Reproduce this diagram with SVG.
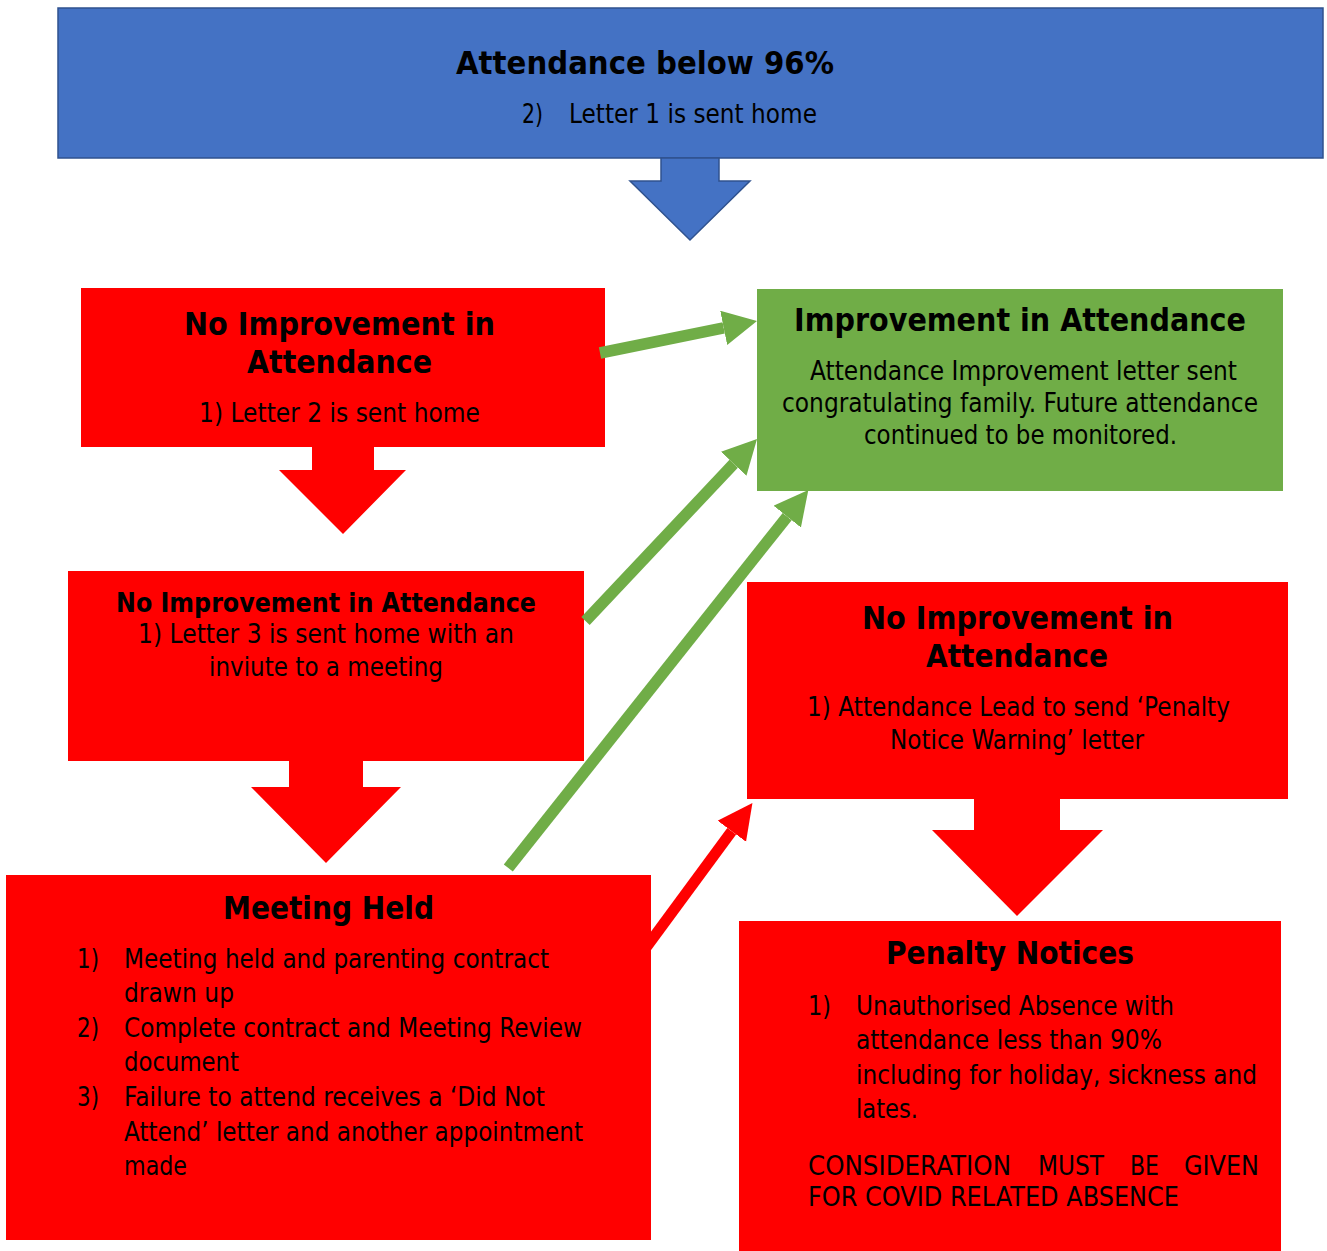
<svg xmlns="http://www.w3.org/2000/svg" width="1327" height="1251" viewBox="0 0 1327 1251">
<style>
text{font-family:"DejaVu Sans","Liberation Sans",sans-serif;fill:#000;}
.t{font-size:31.5px;font-weight:bold;}
.t2{font-size:26px;font-weight:bold;}
.b{font-size:26px;}
.red{fill:#FF0000;}
.green{fill:#70AD47;}
.blue{fill:#4472C4;stroke:#2F528F;stroke-width:1.5;}
.gl{stroke:#70AD47;stroke-width:11.5;fill:none;marker-end:url(#gh);}
.rl{stroke:#FF0000;stroke-width:11;fill:none;marker-end:url(#rh);}
</style>
<defs>
<marker id="gh" markerUnits="userSpaceOnUse" markerWidth="36" markerHeight="36" refX="0" refY="17.5" orient="auto" viewBox="0 0 36 36"><path d="M0,0 L34,17.5 L0,35 Z" fill="#70AD47"/></marker>
<marker id="rh" markerUnits="userSpaceOnUse" markerWidth="37" markerHeight="37" refX="0" refY="17.75" orient="auto" viewBox="0 0 37 37"><path d="M0,0 L35,17.75 L0,35.5 Z" fill="#FF0000"/></marker>
</defs>
<rect width="1327" height="1251" fill="#fff"/>

<g id="node-start">
<rect class="blue" x="58" y="8" width="1265" height="150"/>
<text class="t" x="456" y="74" textLength="378" lengthAdjust="spacingAndGlyphs">Attendance below 96%</text>
<text class="b" x="522" y="123" textLength="21" lengthAdjust="spacingAndGlyphs">2)</text>
<text class="b" x="569" y="123" textLength="248" lengthAdjust="spacingAndGlyphs">Letter 1 is sent home</text>
</g>

<g id="node-no-improvement-1">
<rect class="red" x="81" y="288" width="524" height="159"/>
<text class="t" x="184" y="335" textLength="311" lengthAdjust="spacingAndGlyphs">No Improvement in</text>
<text class="t" x="247" y="373" textLength="185" lengthAdjust="spacingAndGlyphs">Attendance</text>
<text class="b" x="199" y="422" textLength="281" lengthAdjust="spacingAndGlyphs">1) Letter 2 is sent home</text>
</g>

<g id="node-no-improvement-2">
<rect class="red" x="68" y="571" width="516" height="190"/>
<text class="t2" x="116" y="612" textLength="420" lengthAdjust="spacingAndGlyphs">No Improvement in Attendance</text>
<text class="b" x="138" y="643" textLength="376" lengthAdjust="spacingAndGlyphs">1) Letter 3 is sent home with an</text>
<text class="b" x="209" y="676" textLength="234" lengthAdjust="spacingAndGlyphs">inviute to a meeting</text>
</g>

<g id="node-improvement">
<rect class="green" x="757" y="289" width="526" height="202"/>
<text class="t" x="794" y="331" textLength="452" lengthAdjust="spacingAndGlyphs">Improvement in Attendance</text>
<text class="b" x="810" y="380" textLength="427" lengthAdjust="spacingAndGlyphs">Attendance Improvement letter sent</text>
<text class="b" x="782" y="412" textLength="476" lengthAdjust="spacingAndGlyphs">congratulating family. Future attendance</text>
<text class="b" x="864" y="444" textLength="313" lengthAdjust="spacingAndGlyphs">continued to be monitored.</text>
</g>

<g id="node-no-improvement-3">
<rect class="red" x="747" y="582" width="541" height="217"/>
<text class="t" x="862" y="629" textLength="311" lengthAdjust="spacingAndGlyphs">No Improvement in</text>
<text class="t" x="926" y="667" textLength="182" lengthAdjust="spacingAndGlyphs">Attendance</text>
<text class="b" x="807" y="716" textLength="423" lengthAdjust="spacingAndGlyphs">1) Attendance Lead to send ‘Penalty</text>
<text class="b" x="890" y="749" textLength="254" lengthAdjust="spacingAndGlyphs">Notice Warning’ letter</text>
</g>

<g id="node-meeting">
<rect class="red" x="6" y="875" width="645" height="365"/>
<text class="t" x="223" y="919" textLength="211" lengthAdjust="spacingAndGlyphs">Meeting Held</text>
<text class="b" x="77" y="968" textLength="22" lengthAdjust="spacingAndGlyphs">1)</text>
<text class="b" x="124" y="968" textLength="425" lengthAdjust="spacingAndGlyphs">Meeting held and parenting contract</text>
<text class="b" x="124" y="1002" textLength="110" lengthAdjust="spacingAndGlyphs">drawn up</text>
<text class="b" x="77" y="1037" textLength="22" lengthAdjust="spacingAndGlyphs">2)</text>
<text class="b" x="124" y="1037" textLength="458" lengthAdjust="spacingAndGlyphs">Complete contract and Meeting Review</text>
<text class="b" x="124" y="1071" textLength="115" lengthAdjust="spacingAndGlyphs">document</text>
<text class="b" x="77" y="1106" textLength="22" lengthAdjust="spacingAndGlyphs">3)</text>
<text class="b" x="124" y="1106" textLength="421" lengthAdjust="spacingAndGlyphs">Failure to attend receives a ‘Did Not</text>
<text class="b" x="124" y="1141" textLength="459" lengthAdjust="spacingAndGlyphs">Attend’ letter and another appointment</text>
<text class="b" x="124" y="1175" textLength="63" lengthAdjust="spacingAndGlyphs">made</text>
</g>

<g id="node-penalty">
<rect class="red" x="739" y="921" width="542" height="330"/>
<text class="t" x="886" y="964" textLength="248" lengthAdjust="spacingAndGlyphs">Penalty Notices</text>
<text class="b" x="808" y="1015" textLength="23" lengthAdjust="spacingAndGlyphs">1)</text>
<text class="b" x="856" y="1015" textLength="318" lengthAdjust="spacingAndGlyphs">Unauthorised Absence with</text>
<text class="b" x="856" y="1049" textLength="306" lengthAdjust="spacingAndGlyphs">attendance less than 90%</text>
<text class="b" x="856" y="1084" textLength="401" lengthAdjust="spacingAndGlyphs">including for holiday, sickness and</text>
<text class="b" x="856" y="1118" textLength="62" lengthAdjust="spacingAndGlyphs">lates.</text>
<text class="b" x="808" y="1175" textLength="203" lengthAdjust="spacingAndGlyphs">CONSIDERATION</text>
<text class="b" x="1038" y="1175" textLength="66" lengthAdjust="spacingAndGlyphs">MUST</text>
<text class="b" x="1130" y="1175" textLength="29" lengthAdjust="spacingAndGlyphs">BE</text>
<text class="b" x="1184" y="1175" textLength="75" lengthAdjust="spacingAndGlyphs">GIVEN</text>
<text class="b" x="808" y="1206" textLength="371" lengthAdjust="spacingAndGlyphs">FOR COVID RELATED ABSENCE</text>
</g>

<g id="connectors">
<polygon class="blue" points="661,158 719,158 719,181 750,181 690,240 630,181 661,181"/>
<polygon class="red" points="312,446 374,446 374,470 406,470 343,534 279,470 312,470"/>
<polygon class="red" points="289,760 363,760 363,787 401,787 326,863 251,787 289,787"/>
<polygon class="red" points="974,798 1060,798 1060,830 1103,830 1017,916 932,830 974,830"/>
<line class="gl" x1="600" y1="353" x2="723.7" y2="327.8"/>
<line class="gl" x1="585.5" y1="621" x2="733.7" y2="463.8"/>
<line class="gl" x1="508.3" y1="868" x2="787.2" y2="516.6"/>
<line class="rl" x1="645" y1="949" x2="731.7" y2="831.2"/>
</g>
</svg>
